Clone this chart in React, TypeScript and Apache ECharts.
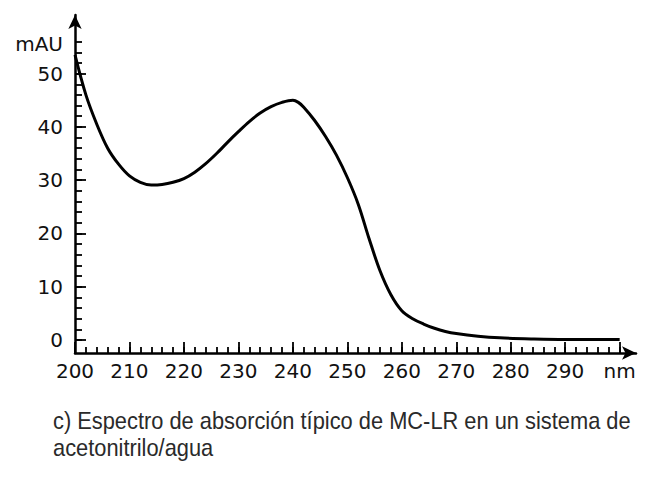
import React, { useEffect, useRef } from "react";
import * as echarts from "echarts";

const wavelengths = [200, 202, 204, 206, 208, 210, 212, 214, 216, 218, 220, 222, 224, 226, 228, 230, 232, 234, 236, 238, 240, 241, 242, 244, 246, 248, 250, 252, 254, 256, 258, 260, 262, 264, 266, 268, 270, 274, 278, 284, 290, 300];
const absorbance = [53.5, 46, 40.5, 36, 33, 30.8, 29.6, 29.1, 29.2, 29.6, 30.3, 31.5, 33.1, 35.0, 37.1, 39.1, 41.0, 42.6, 43.8, 44.6, 45.0, 44.6, 43.7, 41.2, 38.2, 34.7, 30.5, 25.5, 19.0, 13.0, 8.5, 5.5, 4.0, 3.0, 2.2, 1.6, 1.2, 0.7, 0.4, 0.2, 0.1, 0.1];

const xMajorTicks = [200, 210, 220, 230, 240, 250, 260, 270, 280, 290, 300];
const xMinorTicks = Array.from({ length: 51 }, (_, i) => 200 + i * 2);
const yMajorTicks = [0, 10, 20, 30, 40, 50];
const yMinorTicks = Array.from({ length: 29 }, (_, i) => i * 2);

const yUnit = "mAU";
const xUnit = "nm";
const caption = "c) Espectro de absorción típico de MC-LR en un sistema de\nacetonitrilo/agua";

export default function App() {
  const ref = useRef<HTMLDivElement>(null);
  useEffect(() => {
    if (!ref.current) return;
    const chart = echarts.init(ref.current, null, { renderer: "svg" });
    const axisFont = { fontFamily: "DejaVu Sans", fontSize: 20, color: "#111" };
    const xMin = 200, xMax = 303, yMin = -2.44, yMax = 61;
    const lineStyle = { color: "#000", width: 2.5 };
    chart.setOption({
      animation: false,
      backgroundColor: "#fff",
      grid: { left: 75, right: 9, top: 15, bottom: 124, containLabel: false },
      xAxis: [
        {
          type: "value", min: xMin, max: xMax, position: "bottom",
          axisLine: { show: true, onZero: false, lineStyle, symbol: ["none", "arrow"], symbolSize: [10, 14] },
          axisTick: { show: true, inside: true, length: 11, customValues: xMajorTicks, lineStyle: { color: "#000", width: 1.8 } },
          axisLabel: { ...axisFont, margin: 8, customValues: xMajorTicks, formatter: (v: number) => (v === 300 ? xUnit : String(v)) },
          splitLine: { show: false },
        },
        {
          type: "value", min: xMin, max: xMax, position: "bottom",
          axisLine: { show: false, onZero: false },
          axisTick: { show: true, inside: true, length: 6, customValues: xMinorTicks, lineStyle: { color: "#000", width: 1.8 } },
          axisLabel: { show: false },
          splitLine: { show: false },
        },
      ],
      yAxis: [
        {
          type: "value", min: yMin, max: yMax, position: "left",
          axisLine: { show: true, onZero: false, lineStyle, symbol: ["none", "arrow"], symbolSize: [10, 14] },
          axisTick: { show: true, inside: true, length: 11, customValues: yMajorTicks, lineStyle: { color: "#000", width: 1.8 } },
          axisLabel: { ...axisFont, margin: 12, customValues: yMajorTicks },
          splitLine: { show: false },
        },
        {
          type: "value", min: yMin, max: yMax, position: "left",
          axisLine: { show: false, onZero: false },
          axisTick: { show: true, inside: true, length: 7, customValues: yMinorTicks, lineStyle: { color: "#000", width: 1.8 } },
          axisLabel: { show: false },
          splitLine: { show: false },
        },
      ],
      series: [
        {
          type: "line",
          xAxisIndex: 0,
          yAxisIndex: 0,
          data: wavelengths.map((w, i) => [w, absorbance[i]]),
          smooth: 0.35,
          showSymbol: false,
          lineStyle: { color: "#000", width: 3 },
        },
      ],
      graphic: [
        {
          type: "text", right: 645 - 63, top: 34,
          style: { text: yUnit, fontFamily: "DejaVu Sans", fontSize: 20, fill: "#111", textAlign: "right" },
        },
        {
          type: "text", x: 53, y: 407, scaleX: 0.91,
          style: { text: caption, fontFamily: "'Liberation Sans', Arial, sans-serif", fontSize: 24, lineHeight: 27, fill: "#2a2a2a", textVerticalAlign: "top" },
        },
      ],
    });
    return () => chart.dispose();
  }, []);
  return <div ref={ref} style={{ position: "absolute", left: 0, top: 0, width: 645, height: 477 }} />;
}
